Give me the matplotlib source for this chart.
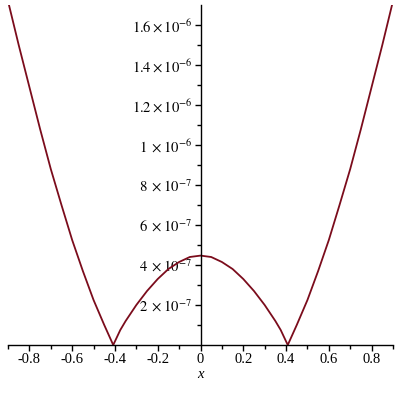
import matplotlib
matplotlib.use('Agg')
import matplotlib.pyplot as plt
from matplotlib.ticker import MultipleLocator, FixedLocator

# values (y in units of 1e-6)
x_vals = [-0.90, -0.85, -0.80, -0.75, -0.70, -0.65, -0.60, -0.55, -0.50, -0.45,
          -0.408, -0.375, -0.35, -0.30, -0.25, -0.20, -0.15, -0.10, -0.05, 0.0,
          0.05, 0.10, 0.15, 0.20, 0.25, 0.30, 0.35, 0.375, 0.408,
          0.45, 0.50, 0.55, 0.60, 0.65, 0.70, 0.75, 0.80, 0.85, 0.90]
y_vals = [1.72, 1.50, 1.29, 1.08, 0.88, 0.70, 0.525, 0.37, 0.225, 0.10,
          0.0, 0.075, 0.12, 0.20, 0.27, 0.33, 0.38, 0.415, 0.44, 0.447,
          0.44, 0.415, 0.38, 0.33, 0.27, 0.20, 0.12, 0.075, 0.0,
          0.10, 0.225, 0.37, 0.525, 0.70, 0.88, 1.08, 1.29, 1.50, 1.72]

x_ticks = [-0.8, -0.6, -0.4, -0.2, 0, 0.2, 0.4, 0.6, 0.8]
x_tick_labels = ['-0.8', '-0.6', '-0.4', '-0.2', '0', '0.2', '0.4', '0.6', '0.8']
y_ticks = [0.2, 0.4, 0.6, 0.8, 1.0, 1.2, 1.4, 1.6]
y_tick_labels = [r'$2\ \times 10^{-7}$', r'$4\ \times 10^{-7}$', r'$6\ \times 10^{-7}$',
                 r'$8\ \times 10^{-7}$', r'$1\ \times 10^{-6}$', r'$1.2\times 10^{-6}$',
                 r'$1.4\times 10^{-6}$', r'$1.6\times 10^{-6}$']

plt.rcParams['mathtext.fontset'] = 'stix'
plt.rcParams['font.family'] = ['Liberation Serif', 'DejaVu Serif']

fig = plt.figure(figsize=(4, 4), dpi=100)
ax = fig.add_axes([0.02, 0.1375, 0.9625, 0.85])

ax.plot(x_vals, [v * 1e-6 for v in y_vals], color='#7b0c1c', linewidth=1.3)

ax.set_xlim(-0.9, 0.9)
ax.set_ylim(0, 1.7e-6)

ax.spines['left'].set_position(('data', 0))
ax.spines['right'].set_visible(False)
ax.spines['top'].set_visible(False)
for s in ('left', 'bottom'):
    ax.spines[s].set_linewidth(1.0)

ax.set_xticks(x_ticks)
ax.set_xticklabels(x_tick_labels)
ax.xaxis.set_minor_locator(MultipleLocator(0.1))
ax.set_yticks([v * 1e-6 for v in y_ticks])
ax.set_yticklabels(y_tick_labels)
ax.yaxis.set_minor_locator(FixedLocator([v * 1e-7 for v in range(1, 17, 2)]))

ax.tick_params(axis='both', which='major', length=4, width=1, labelsize=10.5, pad=2)
ax.tick_params(axis='both', which='minor', length=3, width=1)

ax.set_xlabel('x', fontstyle='italic', fontsize=10.5, labelpad=1)

fig.savefig('out.png', dpi=100)
plt.close(fig)
